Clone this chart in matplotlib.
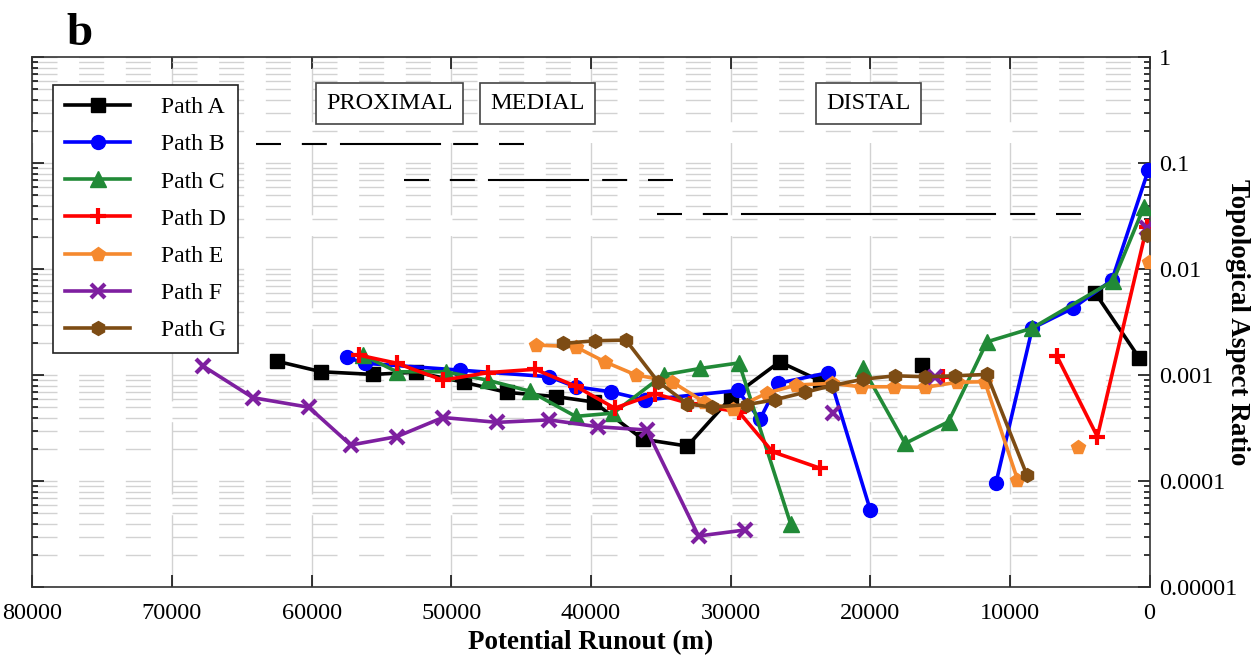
import numpy as np
import matplotlib
matplotlib.use('Agg')
import matplotlib.pyplot as plt
from matplotlib.ticker import LogLocator, NullFormatter

plt.rcParams['font.family'] = ['Liberation Serif', 'DejaVu Serif']
plt.rcParams['lines.scale_dashes'] = False

nan = np.nan

# --- data (runout in m, aspect ratio) ---
path_a_x = [62500, 59300, 55600, 52500, 49100, 46000, 42500, 39800, 36300, 33100, 30000, 26500, 23600, nan, 16300, nan, 3900, 730]
path_a_y = [0.00136, 0.00108, 0.00102, 0.00107, 0.00086, 0.00069, 0.00063, 0.00056, 0.00025, 0.000215, 0.00061, 0.00134, 0.00089, nan, 0.00125, nan, 0.0060, 0.00145]

path_b_x = [57500, 56200, 49400, 43000, 41100, 38600, 36100, 29500, 27900, 26600, 23000, 20000, nan, 11000, 8400, 5500, 2700, 90]
path_b_y = [0.00148, 0.0013, 0.00112, 0.00097, 0.00078, 0.0007, 0.000585, 0.00072, 0.000385, 0.00084, 0.00106, 0.0000536, nan, 0.000097, 0.00278, 0.0043, 0.0079, 0.0865]

path_c_x = [56300, 53900, 50400, 47400, 44400, 41100, 38400, 34800, 32200, 29400, 25700, nan, 20500, 17500, 14400, 11650, 8430, 2600, 400]
path_c_y = [0.00155, 0.00108, 0.00108, 0.0009, 0.00071, 0.00041, 0.00044, 0.00101, 0.00116, 0.00131, 0.0000396, nan, 0.00116, 0.000228, 0.000365, 0.00207, 0.00278, 0.0078, 0.039]

path_d_x = [56600, 53900, 50600, 47400, 44000, 41100, 38300, 35400, 32900, 29400, 27000, 23600, nan, 14760, nan, 6640, 3740, 200]
path_d_y = [0.00155, 0.0013, 0.0009, 0.00106, 0.00114, 0.00079, 0.00049, 0.00067, 0.00054, 0.00045, 0.00019, 0.000133, nan, 0.00097, nan, 0.00152, 0.000264, 0.0252]

path_e_x = [43900, 41100, 39000, 36800, 34200, 31900, 29800, 27400, 25300, 22750, 20700, 18300, 16100, 13800, 11800, 9460, nan, 5140, nan, 60]
path_e_y = [0.00193, 0.00186, 0.00134, 0.00101, 0.00087, 0.00056, 0.00048, 0.00068, 0.00081, 0.00084, 0.00078, 0.00078, 0.00077, 0.00086, 0.00087, 0.000104, nan, 0.000212, nan, 0.0118]

path_f_x = [67800, 64200, 60200, 57200, 53900, 50600, 46700, 43000, 39500, 36000, 32300, 29000, nan, 22650, nan, 15350, nan, 200]
path_f_y = [0.00123, 0.000615, 0.0005, 0.00022, 0.000264, 0.0004, 0.00036, 0.00038, 0.000327, 0.000305, 0.0000305, 0.0000347, nan, 0.00044, nan, 0.00097, nan, 0.0245]

path_g_x = [42000, 39700, 37500, 35200, 33100, 31300, 28800, 26800, 24700, 22750, 20500, 18200, 16100, 13900, 11650, 8790, nan, 200]
path_g_y = [0.0020, 0.00212, 0.00215, 0.00087, 0.00054, 0.0005, 0.00053, 0.00059, 0.00069, 0.0008, 0.00092, 0.00099, 0.00097, 0.00099, 0.00102, 0.000115, nan, 0.0211]

labels = ['Path A', 'Path B', 'Path C', 'Path D', 'Path E', 'Path F', 'Path G']
colors = ['#000000', '#0000ff', '#218a37', '#ff0000', '#f5892e', '#7e1fa0', '#7d4c14']
markers = ['s', 'o', '^', '+', 'p', 'x', 'h']

# zone boxes and range bars
zone_names = ['PROXIMAL', 'MEDIAL', 'DISTAL']
zone_x = [54400, 43800, 20150]
zone_y = 0.366
range_y = [0.152, 0.0696, 0.0332]
range_start = [64000, 53400, 35300]
range_solid_start = [57900, 47300, 29200]
range_solid_end = [50800, 40200, 11100]
range_end = [44800, 34100, 4900]

xticks = [80000, 70000, 60000, 50000, 40000, 30000, 20000, 10000, 0]
yticks = [1, 0.1, 0.01, 0.001, 0.0001, 0.00001]
ytick_labels = ['1', '0.1', '0.01', '0.001', '0.0001', '0.00001']

fig = plt.figure(figsize=(12.54, 6.62), dpi=100)
ax = fig.add_axes([0.02576, 0.1128, 0.8910, 0.8006])

all_x = [path_a_x, path_b_x, path_c_x, path_d_x, path_e_x, path_f_x, path_g_x]
all_y = [path_a_y, path_b_y, path_c_y, path_d_y, path_e_y, path_f_y, path_g_y]

for xs, ys, lab, c, m in zip(all_x, all_y, labels, colors, markers):
    mew = 3 if m in ('+', 'x') else 1
    ms = 12 if m in ('+', '^') else 10
    ax.plot(xs, ys, color=c, marker=m, markersize=ms, markeredgewidth=mew,
            linewidth=2.6, label=lab, zorder=3)

# range bars: dashed tails, solid middle
for y, a, b, c, d in zip(range_y, range_start, range_solid_start, range_solid_end, range_end):
    ax.plot([a, b], [y, y], color='black', lw=1.5, dashes=(18, 15), zorder=2)
    ax.plot([b, c], [y, y], color='black', lw=1.5, zorder=2)
    ax.plot([d, c], [y, y], color='black', lw=1.5, dashes=(18, 15), zorder=2)

for name, x in zip(zone_names, zone_x):
    ax.text(x, zone_y, name, ha='center', va='center', fontsize=17.5,
            bbox=dict(boxstyle='square,pad=0.42', facecolor='white', edgecolor='#444444', linewidth=1.2),
            zorder=4)

ax.set_yscale('log')
ax.set_xlim(80000, 0)
ax.set_ylim(0.00001, 1)

ax.set_xticks(xticks)
ax.set_xticklabels([str(v) for v in xticks])
ax.set_yticks(yticks)
ax.set_yticklabels(ytick_labels)
ax.yaxis.set_minor_locator(LogLocator(base=10, subs=np.arange(2, 10)))
ax.yaxis.set_minor_formatter(NullFormatter())

ax.tick_params(axis='x', which='major', direction='in', length=8.5, width=1.1,
               top=True, bottom=True, labelsize=17.5, pad=11)
ax.tick_params(axis='y', which='major', direction='in', length=8.5, width=1.1,
               left=True, right=True, labelleft=False, labelright=True, labelsize=17.5, pad=7)
ax.tick_params(axis='y', which='minor', direction='in', length=4.5, width=1.1,
               left=True, right=True)

for sp in ax.spines.values():
    sp.set_linewidth(1.2)
    sp.set_color('#333333')

ax.grid(True, which='major', axis='x', color='#d2d2d2', linewidth=1.0, dashes=(52, 15))
ax.grid(True, which='both', axis='y', color='#d2d2d2', linewidth=1.0, dashes=(18, 15.6))
ax.set_axisbelow(True)

ax.set_xlabel('Potential Runout (m)', fontsize=19.5, fontweight='bold', labelpad=5)
fig.text(0.9865, 0.513, 'Topological Aspect Ratio', fontsize=19.5, fontweight='bold',
         rotation=270, ha='center', va='center')

leg = ax.legend(loc='upper left', bbox_to_anchor=(0.0188, 0.9477), borderaxespad=0,
                fontsize=17, handlelength=2.75, handletextpad=1.3, labelspacing=0.66,
                borderpad=0.5, fancybox=False, framealpha=1, edgecolor='#222222')
leg.get_frame().set_linewidth(1.2)

fig.text(0.053, 0.932, 'b', fontsize=34, fontweight='bold', ha='left', va='baseline')

fig.savefig('out.png', dpi=100, facecolor='white')
